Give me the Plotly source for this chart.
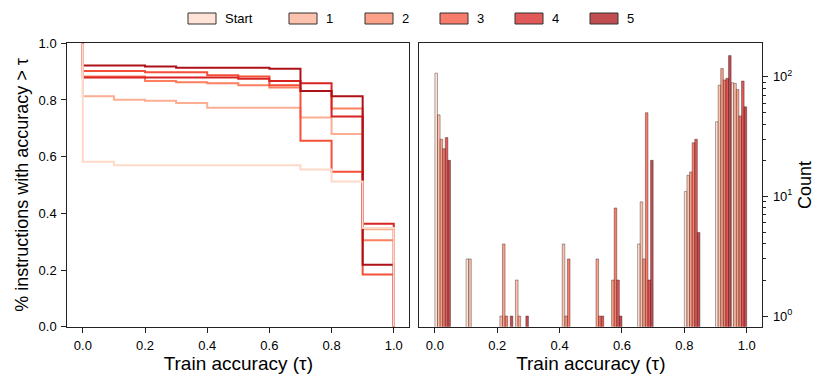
import plotly.graph_objects as go

labels = ["Start", "1", "2", "3", "4", "5"]
colors = ["#fed9c8", "#fcae92", "#fc8060", "#f45039", "#d72322", "#ad1117"]

# left panel: fraction of instructions with train accuracy > tau
tau = [0.0, 0.1, 0.2, 0.3, 0.4, 0.5, 0.6, 0.7, 0.8, 0.9]
frac_start = [0.582, 0.570, 0.570, 0.570, 0.570, 0.570, 0.570, 0.555, 0.512, 0.348]
frac_1 = [0.813, 0.801, 0.797, 0.789, 0.773, 0.773, 0.773, 0.738, 0.680, 0.344]
frac_2 = [0.883, 0.883, 0.867, 0.863, 0.859, 0.852, 0.844, 0.832, 0.770, 0.305]
frac_3 = [0.902, 0.902, 0.898, 0.898, 0.887, 0.883, 0.852, 0.656, 0.547, 0.184]
frac_4 = [0.879, 0.879, 0.879, 0.879, 0.879, 0.875, 0.867, 0.859, 0.742, 0.363]
frac_5 = [0.922, 0.922, 0.918, 0.914, 0.914, 0.914, 0.910, 0.832, 0.813, 0.219]

# right panel: histogram counts, bins of 0.05 (lower edges), None = empty
bin_left = [0.0, 0.1, 0.2, 0.25, 0.4, 0.5, 0.55, 0.65, 0.8, 0.9, 0.95]
bin_width = 0.05
count_start = [107, 3, None, None, None, None, None, 4, 11, 42, 89]
count_1 = [48, 3, 1, 2, 4, None, None, 9, 15, 85, 88]
count_2 = [30, None, 4, 1, 1, 3, 2, 3, 16, 117, 78]
count_3 = [25, None, 1, None, 3, 1, 8, 50, 28, 94, 47]
count_4 = [31, None, None, None, None, 1, 2, 2, 30, 97, 92]
count_5 = [20, None, 1, 1, None, None, 1, 20, 5, 150, 56]

fracs = [frac_start, frac_1, frac_2, frac_3, frac_4, frac_5]
counts = [count_start, count_1, count_2, count_3, count_4, count_5]


def rgba(hex_color, a):
    h = hex_color.lstrip("#")
    r, g, b = int(h[0:2], 16), int(h[2:4], 16), int(h[4:6], 16)
    return "rgba(%d,%d,%d,%s)" % (r, g, b, a)


W, H = 831, 388
fig = go.Figure()

# step lines, Start drawn last so it sits on top
for i in [1, 2, 3, 4, 5, 0]:
    ys = fracs[i]
    fig.add_trace(go.Scatter(
        x=[tau[0]] + tau + [1.0, 1.0],
        y=[1.0] + ys + [ys[-1], 0.0],
        mode="lines",
        line=dict(color=colors[i], width=2, shape="hv"),
        showlegend=False,
        xaxis="x", yaxis="y",
    ))

# side-by-side histogram bars, 6 slots per bin
slot = bin_width / 6
for i in range(6):
    fig.add_trace(go.Bar(
        x=[b + (i + 0.5) * slot for b in bin_left],
        y=counts[i],
        width=slot,
        name=labels[i],
        showlegend=False,
        marker=dict(color=rgba(colors[i], 0.75),
                    line=dict(color="rgba(40,20,20,0.55)", width=0.7)),
        xaxis="x2", yaxis="y2",
    ))

# figure legend drawn as patches + labels across the top
legend_x = [188, 289, 365, 440, 515, 590]
shapes, annotations = [], []
for i, lx in enumerate(legend_x):
    shapes.append(dict(type="rect", xref="paper", yref="paper",
                       x0=lx / W, x1=(lx + 28) / W,
                       y0=1 - 24 / H, y1=1 - 13 / H,
                       fillcolor=rgba(colors[i], 0.75),
                       line=dict(color="#333", width=1)))
    annotations.append(dict(text=labels[i], xref="paper", yref="paper",
                            x=(lx + 35) / W, y=1 - 18.5 / H,
                            xanchor="left", yanchor="middle", showarrow=False,
                            font=dict(size=13)))

font = "Liberation Sans, Arial, sans-serif"
axis_common = dict(
    showline=True, linecolor="#222", linewidth=1, mirror=True,
    ticks="outside", ticklen=5, tickwidth=1, tickcolor="#222",
    ticklabelstandoff=2,
    showgrid=False, zeroline=False,
    tickfont=dict(size=13, color="black"),
)

fig.update_layout(
    width=W, height=H,
    margin=dict(l=0, r=0, t=0, b=0),
    paper_bgcolor="white", plot_bgcolor="white",
    font=dict(family=font, color="black"),
    barmode="overlay",
    shapes=shapes, annotations=annotations,
    showlegend=False,
    xaxis=dict(domain=[67.3 / W, 409.3 / W], range=[-0.05, 1.05],
               tickvals=[0, 0.2, 0.4, 0.6, 0.8, 1.0], tickformat=".1f",
               title=dict(text="Train accuracy (τ)", font=dict(size=19), standoff=4),
               anchor="y", automargin=False, **axis_common),
    yaxis=dict(domain=[1 - 326.7 / H, 1 - 43.3 / H], range=[0, 1.0],
               tickvals=[0, 0.2, 0.4, 0.6, 0.8, 1.0], tickformat=".1f",
               title=dict(text="% instructions with accuracy > τ", font=dict(size=18), standoff=5),
               anchor="x", automargin=False, **axis_common),
    xaxis2=dict(domain=[419.3 / W, 762.3 / W], range=[-0.05, 1.05],
                tickvals=[0, 0.2, 0.4, 0.6, 0.8, 1.0], tickformat=".1f",
                title=dict(text="Train accuracy (τ)", font=dict(size=19), standoff=4),
                anchor="y2", automargin=False, **axis_common),
    yaxis2=dict(domain=[1 - 326.7 / H, 1 - 43.3 / H], type="log", range=[-0.089, 2.279],
                side="right",
                tickvals=[1, 10, 100],
                ticktext=["10<sup>0</sup>", "10<sup>1</sup>", "10<sup>2</sup>"],
                minor=dict(ticks="outside", ticklen=2.5, tickcolor="#222",
                           tickvals=[2, 3, 4, 5, 6, 7, 8, 9, 20, 30, 40, 50, 60, 70, 80, 90]),
                title=dict(text="Count", font=dict(size=18), standoff=6),
                anchor="x2", automargin=False, **axis_common),
)

fig.write_html("out.html", config={"displayModeBar": False},
               post_script="document.body.style.margin='0';")
